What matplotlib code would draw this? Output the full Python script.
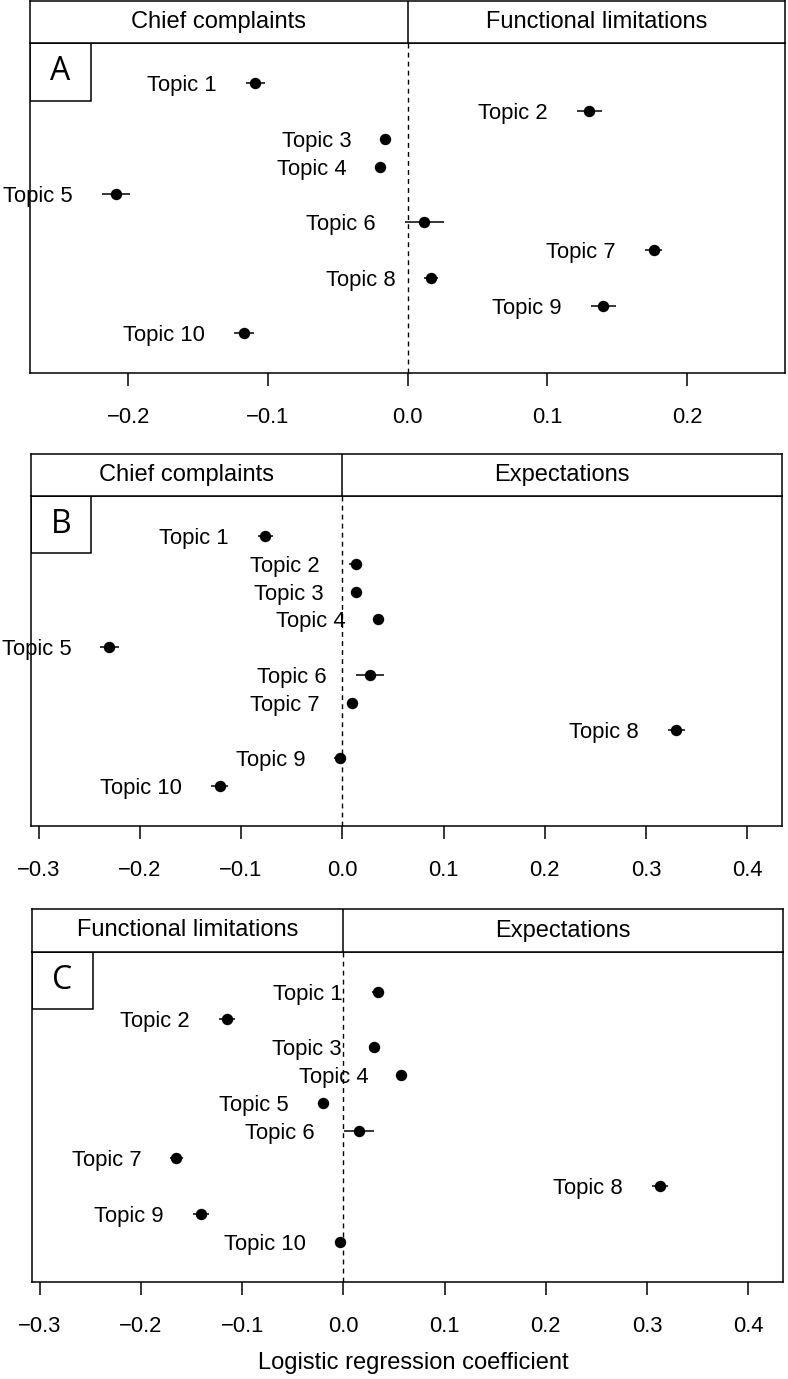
import numpy as np
import matplotlib.pyplot as plt
from matplotlib.patches import Rectangle

plt.rcParams['font.family'] = ['Liberation Sans', 'DejaVu Sans']
plt.rcParams['axes.unicode_minus'] = True

topics = ['Topic %d' % i for i in range(1, 11)]

# A: chief complaints vs functional limitations
coef_a = [-0.109, 0.130, -0.016, -0.020, -0.209, 0.012, 0.176, 0.017, 0.140, -0.117]
err_a = [0.007, 0.009, 0.003, 0.003, 0.010, 0.014, 0.006, 0.005, 0.009, 0.007]
head_a = ['Chief complaints', 'Functional limitations']
ticks_a = [-0.2, -0.1, 0.0, 0.1, 0.2]

# B: chief complaints vs expectations
coef_b = [-0.076, 0.013, 0.0134, 0.035, -0.230, 0.027, 0.0095, 0.330, -0.002, -0.121]
err_b = [0.0075, 0.0065, 0.003, 0.003, 0.009, 0.014, 0.003, 0.0085, 0.006, 0.0085]
head_b = ['Chief complaints', 'Expectations']
ticks_b = [-0.3, -0.2, -0.1, 0.0, 0.1, 0.2, 0.3, 0.4]

# C: functional limitations vs expectations
coef_c = [0.034, -0.115, 0.030, 0.057, -0.020, 0.0154, -0.165, 0.313, -0.141, -0.003]
err_c = [0.006, 0.008, 0.003, 0.003, 0.005, 0.015, 0.006, 0.008, 0.008, 0.005]
head_c = ['Functional limitations', 'Expectations']
ticks_c = ticks_b

W, H = 788, 1379
FS = 15.8
FS_HEAD = 17
LW = 1.1

fig = plt.figure(figsize=(W / 100, H / 100), dpi=100)


def px_axes(left, top, right, bottom):
    return fig.add_axes([left / W, 1 - bottom / H, (right - left) / W, (bottom - top) / H])


def fmt(v):
    s = '%.1f' % abs(v)
    return ('\u2212' + s) if v < 0 else s


def panel(box, head_top, xlim, ticks, coef, err, heads, letter):
    left, top, right, bottom = box
    ax = px_axes(left, top, right, bottom)
    y = np.arange(10, 0, -1)
    ax.axvline(0, color='black', lw=1.0, ls=(0, (3.5, 3)), zorder=1)
    ax.errorbar(coef, y, xerr=err, fmt='o', color='black', ms=7.2,
                elinewidth=1.1, capsize=0, zorder=3)
    for t, c, e, yy in zip(topics, coef, err, y):
        ax.annotate(t, xy=(c - e, yy), xytext=(-21, 0), textcoords='offset points',
                    ha='right', va='center_baseline', fontsize=FS)
    ax.set_xlim(xlim)
    ax.set_ylim(-0.44, 11.44)
    ax.set_yticks([])
    ax.set_xticks(ticks)
    ax.set_xticklabels([fmt(v) for v in ticks])
    ax.tick_params(axis='x', length=9.6, width=LW, pad=15, labelsize=FS)
    for s in ax.spines.values():
        s.set_linewidth(LW)
    # letter box in upper left corner
    bw = 60.4 / (right - left)
    bh = 57.4 / (bottom - top)
    ax.add_patch(Rectangle((0, 1 - bh), bw, bh, transform=ax.transAxes,
                           fill=False, lw=LW, ec='black', zorder=4))
    ax.text(bw / 2, 1 - bh / 2, letter, transform=ax.transAxes, ha='center',
            va='center', fontsize=23, family=['Open Sans', 'DejaVu Sans'])

    hx = px_axes(left, head_top, right, top)
    hx.set_xlim(xlim)
    hx.set_ylim(0, 1)
    hx.set_xticks([])
    hx.set_yticks([])
    hx.axvline(0, color='black', lw=LW)
    for s in hx.spines.values():
        s.set_linewidth(LW)
    hx.text((xlim[0] + 0) / 2, 0.5, heads[0], ha='center', va='center', fontsize=FS_HEAD)
    hx.text((xlim[1] + 0) / 2, 0.5, heads[1], ha='center', va='center', fontsize=FS_HEAD)
    return ax


panel((30.3, 43.3, 785, 373.3), 1, (-0.27, 0.27), ticks_a, coef_a, err_a, head_a, 'A')
panel((31, 496, 782.3, 826), 453.5, (-0.3075, 0.4345), ticks_b, coef_b, err_b, head_b, 'B')
panel((32.3, 951.7, 783, 1281.7), 909.3, (-0.3075, 0.4345), ticks_c, coef_c, err_c, head_c, 'C')

fig.text(413 / W, 1 - 1363.3 / H, 'Logistic regression coefficient',
         ha='center', va='center', fontsize=FS_HEAD)

fig.savefig('out.png', dpi=100)
